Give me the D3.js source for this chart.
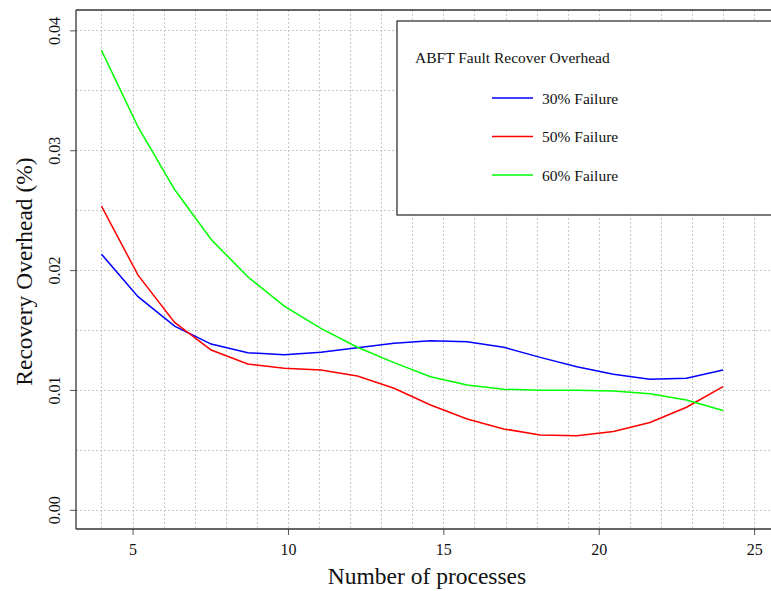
<!DOCTYPE html>
<html><head><meta charset="utf-8">
<script src="https://cdn.jsdelivr.net/npm/d3@7"></script>
<style>body{margin:0;background:#fff}svg{display:block}svg text{font-family:"Liberation Serif","Times New Roman",serif !important}</style>
</head><body>
<script>
const processes = [4, 5.176, 6.353, 7.529, 8.706, 9.882, 11.059, 12.235, 13.412, 14.588, 15.765, 16.941, 18.118, 19.294, 20.471, 21.647, 22.824, 24];
const fail30 = [0.02133, 0.01778, 0.01533, 0.01383, 0.01311, 0.01294, 0.01314, 0.01352, 0.01389, 0.01411, 0.01403, 0.01356, 0.01272, 0.01194, 0.01131, 0.01089, 0.01097, 0.01167];
const fail50 = [0.02533, 0.01958, 0.01564, 0.01333, 0.01217, 0.01181, 0.01167, 0.01117, 0.01014, 0.00875, 0.00758, 0.00675, 0.00625, 0.00619, 0.00653, 0.00728, 0.00856, 0.01028];
const fail60 = [0.03833, 0.03194, 0.02672, 0.02256, 0.01944, 0.01700, 0.01514, 0.01356, 0.01228, 0.01111, 0.01042, 0.01006, 0.00997, 0.00997, 0.00992, 0.00969, 0.00917, 0.00828];
const seriesNames = ["30% Failure", "50% Failure", "60% Failure"];
const seriesColors = ["#0000ff", "#ff0000", "#00ff00"];
const xTicks = [5, 10, 15, 20, 25];
const yTicks = [0.00, 0.01, 0.02, 0.03, 0.04];
const legendTitle = "ABFT Fault Recover Overhead";
const xTitle = "Number of processes";
const yTitle = "Recovery Overhead (%)";

const W = 771, H = 591;
const L = 76, R = 779, T = 10, B = 529;
const svg = d3.select("body").append("svg").attr("width", W).attr("height", H);

const x = d3.scaleLinear().domain([3.18, 25.8]).range([L, R]);
const y = d3.scaleLinear().domain([-0.0016, 0.0417]).range([B, T]);

// grid
const grid = svg.append("g").attr("stroke", "#c8c8c8").attr("stroke-width", 1).attr("stroke-dasharray", "2,2");
d3.range(4, 26).forEach(v => {
  grid.append("line").attr("x1", Math.round(x(v)) + 0.5).attr("x2", Math.round(x(v)) + 0.5).attr("y1", T).attr("y2", B);
});
d3.range(0, 9).map(i => i * 0.005).forEach(v => {
  grid.append("line").attr("y1", Math.round(y(v)) + 0.5).attr("y2", Math.round(y(v)) + 0.5).attr("x1", L).attr("x2", R);
});

// lines
const data = [fail30, fail50, fail60];
const line = d3.line().x((d, i) => x(processes[i])).y(d => y(d));
data.forEach((s, k) => {
  svg.append("path").datum(s).attr("d", line).attr("fill", "none")
    .attr("stroke", seriesColors[k]).attr("stroke-width", 1.5);
});

// axes
const xAxis = d3.axisBottom(x).tickValues(xTicks).tickSize(6).tickPadding(9).tickFormat(d3.format("d"));
const gx = svg.append("g").attr("transform", `translate(0,${B})`).call(xAxis);
gx.select(".domain").remove();
gx.selectAll(".tick line").attr("stroke", "#555");
gx.selectAll(".tick text").attr("font-size", 16).attr("fill", "#111");

const yAxis = d3.axisLeft(y).tickValues(yTicks).tickSize(6).tickFormat(d3.format(".2f"));
const gy = svg.append("g").attr("transform", `translate(${L},0)`).call(yAxis);
gy.select(".domain").remove();
gy.selectAll(".tick line").attr("stroke", "#555");
gy.selectAll(".tick text").attr("font-size", 16).attr("fill", "#111")
  .attr("x", null).attr("dy", null).attr("text-anchor", "middle")
  .attr("transform", "translate(-16,0) rotate(-90)");

// frame
const frame = svg.append("g").attr("stroke", "#333").attr("stroke-width", 1.3);
frame.append("line").attr("x1", L).attr("x2", L).attr("y1", T).attr("y2", B);
frame.append("line").attr("x1", L).attr("x2", W).attr("y1", B).attr("y2", B);
frame.append("line").attr("x1", L).attr("x2", W).attr("y1", T).attr("y2", T);

// titles
svg.append("text").attr("x", 427).attr("y", 584).attr("text-anchor", "middle")
  .attr("font-size", 23.5).attr("fill", "#111").text(xTitle);
svg.append("text").attr("transform", `translate(32,${(T + B) / 2 + 2}) rotate(-90)`).attr("text-anchor", "middle")
  .attr("font-size", 23.5).attr("fill", "#111").text(yTitle);

// legend
const lg = svg.append("g");
lg.append("rect").attr("x", 397).attr("y", 21).attr("width", 400).attr("height", 194)
  .attr("fill", "#fff").attr("stroke", "#333").attr("stroke-width", 1.3);
lg.append("text").attr("x", 415).attr("y", 63).attr("font-size", 15.5).attr("fill", "#111").text(legendTitle);
seriesNames.forEach((n, k) => {
  const yy = 98 + k * 38.5;
  lg.append("line").attr("x1", 492).attr("x2", 533).attr("y1", yy).attr("y2", yy)
    .attr("stroke", seriesColors[k]).attr("stroke-width", 1.5);
  lg.append("text").attr("x", 542).attr("y", yy + 5.5).attr("font-size", 15.5).attr("fill", "#111").text(n);
});
</script>
</body></html>
